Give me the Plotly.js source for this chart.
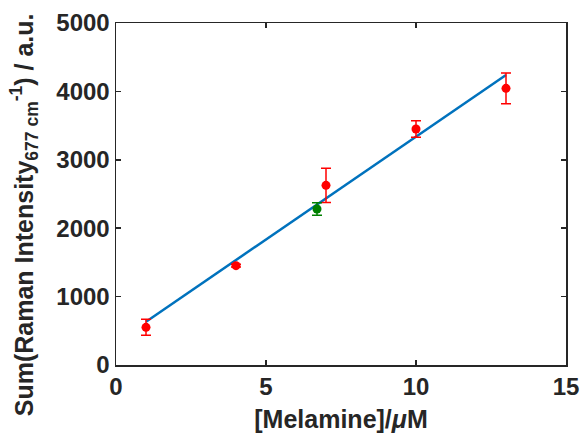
<!DOCTYPE html>
<html><head><meta charset="utf-8">
<script src="https://cdn.plot.ly/plotly-3.0.1.min.js"></script>
<style>html,body{margin:0;padding:0;background:#fff}#chart{width:582px;height:437px}</style>
</head><body><div id="chart"></div>
<script>
const redX = [1, 4, 7, 10, 13];
const redY = [551, 1452, 2627, 3450, 4045];
const redErr = [117, 20, 250, 122, 224];
const greenX = [6.7];
const greenY = [2281];
const greenErr = [90];
const fitX = [1, 13];
const fitY = [633, 4240];
const xTicks = [0, 5, 10, 15];
const yTicks = [0, 1000, 2000, 3000, 4000, 5000];
const yTitle = '<b>Sum(Raman Intensity<sub>677 cm</sub><sup>-1</sup>) / a.u.</b>';
const xTitle = '<b>[Melamine]/</b><b><i>μ</i>M</b>';

const font = {family: '"Liberation Sans", Arial, sans-serif', color: '#262626'};
const traces = [
  {x: fitX, y: fitY, mode: 'lines', line: {color: '#0072BD', width: 2.5}, hoverinfo: 'skip'},
  {x: redX, y: redY, mode: 'markers', marker: {color: '#FF0000', size: 9},
   error_y: {type: 'data', array: redErr, visible: true, color: '#FF0000', thickness: 1.5, width: 5}},
  {x: greenX, y: greenY, mode: 'markers', marker: {color: '#008000', size: 9},
   error_y: {type: 'data', array: greenErr, visible: true, color: '#008000', thickness: 1.5, width: 5}}
];
const axisCommon = {showgrid: false, zeroline: false, showline: true, linecolor: '#262626', linewidth: 1.5,
  mirror: 'ticks', ticks: 'inside', ticklen: 5, tickwidth: 1.5, tickcolor: '#262626',
  tickfont: Object.assign({size: 24, weight: 'bold'}, font), automargin: false};
const layout = {
  width: 582, height: 437, showlegend: false,
  margin: {l: 116, r: 16, t: 23, b: 72},
  paper_bgcolor: '#fff', plot_bgcolor: '#fff',
  xaxis: Object.assign({}, axisCommon, {range: [0, 15.0001], tickvals: xTicks, ticktext: xTicks.map(String),
    ticklabeloverflow: 'allow',
    title: {text: xTitle, font: Object.assign({size: 25}, font), standoff: 11}}),
  yaxis: Object.assign({}, axisCommon, {range: [0, 5000], tickvals: yTicks, ticktext: yTicks.map(String)}),
  annotations: [{text: yTitle, xref: 'paper', yref: 'paper', x: -0.205, y: 0.44,
    xanchor: 'center', yanchor: 'middle', textangle: -90, showarrow: false,
    font: Object.assign({size: 25}, font)}]
};
Plotly.newPlot('chart', traces, layout, {staticPlot: true});
</script></body></html>
